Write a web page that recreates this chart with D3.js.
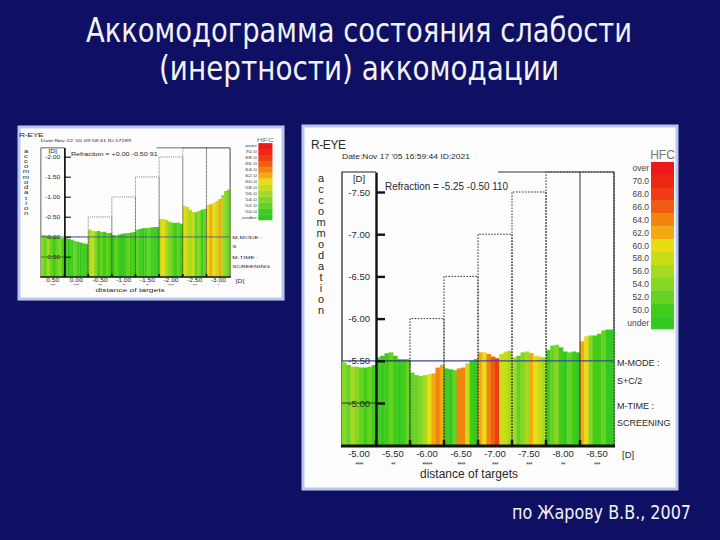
<!DOCTYPE html>
<html>
<head>
<meta charset="utf-8">
<script src="https://cdn.jsdelivr.net/npm/d3@7"></script>
<style>
  html, body { margin: 0; padding: 0; background: #0f1064; }
  svg { display: block; }
</style>
</head>
<body>
<div id="root"></div>
<script>
const width = 720;
const height = 540;

const titleLines = ['Аккомодограмма состояния слабости', '(инертности) аккомодации'];
const credit = 'по Жарову В.В., 2007';

// HFC legend, top to bottom
const hfcLabels = ['over', '70.0', '68.0', '66.0', '64.0', '62.0', '60.0', '58.0', '56.0', '54.0', '52.0', '50.0', 'under'];
const hfcColors = ['#ec1a1a', '#ee2614', '#f03c12', '#f05c12', '#f28410', '#f2aa10', '#eadc12',
                   '#c8dc18', '#a6da20', '#86d624', '#66d222', '#40cc18', '#34c822'];
const accLetters = 'accommodation'.split('');

// big chart (right)
const bigTargets = ['-5.00', '-5.50', '-6.00', '-6.50', '-7.00', '-7.50', '-8.00', '-8.50'];
const bigStimulus = [-5.0, -5.5, -6.0, -6.5, -7.0, -7.5, -8.0, -8.5];
const bigStars = ['****', '**', '*****', '****', '***', '***', '**', '***'];
const bigTicks = [-7.5, -7.0, -6.5, -6.0, -5.5, -5.0];
const bigValues = [
    [-5.48, -5.45, -5.43, -5.43, -5.42, -5.42, -5.43, -5.45],
    [-5.54, -5.56, -5.59, -5.60, -5.56, -5.52, -5.52, -5.52],
    [-5.36, -5.33, -5.32, -5.33, -5.34, -5.35, -5.42, -5.45],
    [-5.41, -5.40, -5.39, -5.41, -5.42, -5.47, -5.50, -5.52],
    [-5.60, -5.60, -5.58, -5.55, -5.53, -5.58, -5.61, -5.62],
    [-5.54, -5.56, -5.60, -5.61, -5.59, -5.56, -5.55, -5.54],
    [-5.63, -5.68, -5.69, -5.66, -5.61, -5.60, -5.61, -5.60],
    [-5.73, -5.79, -5.80, -5.80, -5.82, -5.86, -5.87, -5.87]
];
const bigHfc = [
    [54, 52, 56, 54, 52, 50, 52, 50],
    [50, 48, 50, 52, 50, 48, 50, 52],
    [52, 52, 54, 56, 60, 62, 64, 62],
    [50, 48, 52, 64, 64, 58, 50, 48],
    [62, 60, 64, 66, 68, 58, 58, 56],
    [56, 52, 54, 56, 62, 60, 58, 56],
    [50, 52, 54, 50, 48, 52, 50, 48],
    [62, 60, 54, 50, 50, 52, 48, 48]
];

// small chart (left)
const smallTargets = ['0.50', '0.00', '-0.50', '-1.00', '-1.50', '-2.00', '-2.50', '-3.00'];
const smallStimulus = [0.5, 0.0, -0.5, -1.0, -1.5, -2.0, -2.5, -3.0];
const smallStars = ['****', '****', '***', '**', '**', '****', '***', '*'];
const smallTicks = [-2.0, -1.5, -1.0, -0.5, 0.0, 0.5];
const smallValues = [
    [-0.05, -0.04, -0.03, -0.02, -0.01, 0.00, 0.02, 0.03],
    [0.03, 0.05, 0.07, 0.10, 0.12, 0.14, 0.16, 0.17],
    [-0.18, -0.16, -0.14, -0.15, -0.12, -0.13, -0.10, -0.10],
    [-0.05, -0.04, -0.06, -0.08, -0.09, -0.10, -0.11, -0.12],
    [-0.18, -0.20, -0.22, -0.22, -0.23, -0.24, -0.25, -0.25],
    [-0.45, -0.45, -0.42, -0.38, -0.36, -0.35, -0.36, -0.33],
    [-0.78, -0.75, -0.68, -0.62, -0.62, -0.65, -0.68, -0.70],
    [-0.80, -0.82, -0.85, -0.90, -0.95, -1.05, -1.15, -1.18]
];
const smallHfc = [
    [54, 52, 56, 52, 50, 52, 54, 50],
    [50, 48, 50, 52, 50, 48, 50, 48],
    [56, 58, 54, 50, 52, 50, 52, 50],
    [50, 52, 50, 48, 50, 52, 50, 50],
    [52, 50, 48, 50, 52, 50, 50, 48],
    [58, 60, 56, 54, 52, 50, 52, 50],
    [60, 58, 56, 58, 52, 54, 50, 52],
    [60, 62, 60, 58, 62, 56, 54, 52]
];

const pxPerD = 84.4;
const chartFont = '"Liberation Sans", Arial, sans-serif';
const titleFont = '"DejaVu Sans Condensed", "DejaVu Sans", sans-serif';
const ink = '#2a2a2a';

const hfcColor = d3.scaleThreshold().
    domain([49, 51, 53, 55, 57, 59, 61, 63, 65, 67, 69, 71]).
    range(hfcColors.slice().reverse());

const svg = d3.select('#root').append('svg').
    attr('width', width).
    attr('height', height);

svg.append('rect').attr('width', width).attr('height', height).attr('fill', '#0f1064');

// title
svg.selectAll('text.title').data(titleLines).join('text').
    attr('class', 'title').
    attr('x', 359).
    attr('y', (d, i) => 42 + i * 38).
    attr('text-anchor', 'middle').
    attr('font-family', titleFont).
    attr('font-size', 33).
    attr('fill', '#f2f2f2').
    attr('textLength', (d, i) => i ? 400 : 546).
    attr('lengthAdjust', 'spacingAndGlyphs').
    text(d => d);

svg.append('text').
    attr('x', 512).attr('y', 519).
    attr('font-family', titleFont).
    attr('font-size', 19).
    attr('fill', '#f2f2f2').
    attr('textLength', 179).
    attr('lengthAdjust', 'spacingAndGlyphs').
    text(credit);

const drawChart = (c) => {
    svg.append('rect').
        attr('x', c.x).attr('y', c.y).
        attr('width', c.w * c.sx).attr('height', c.h * c.sy).
        attr('fill', '#fdfdfd').
        attr('stroke', '#b8c8ea').
        attr('stroke-width', 3);

    const g = svg.append('g').
        attr('transform', `translate(${c.x},${c.y}) scale(${c.sx},${c.sy})`).
        attr('font-family', chartFont);

    const x = d3.scaleBand().domain(c.targets).range([c.plotLeft, c.plotRight]);
    const bw = x.bandwidth();
    const xi = d3.scaleBand().domain(d3.range(c.values[0].length)).range([0, bw]);
    const vAt = (p) => c.anchorValue + (p - c.anchorPos) / pxPerD;
    const y = d3.scaleLinear().domain([vAt(c.base), vAt(c.top)]).range([c.base, c.top]);
    const axisX = c.plotLeft + bw;

    // header
    g.append('text').attr('x', c.plotLeft - 31).attr('y', c.top - 23).
        attr('font-size', 12).attr('fill', ink).attr('letter-spacing', -0.4).text(c.eye);
    g.append('text').attr('x', c.plotLeft).attr('y', c.top - 13).
        attr('font-size', 7).attr('fill', ink).
        attr('textLength', 128).attr('lengthAdjust', 'spacingAndGlyphs').text(c.date);
    g.append('text').attr('x', axisX + 9).attr('y', c.top + 18).
        attr('font-size', 11).attr('fill', ink).
        attr('textLength', 123).attr('lengthAdjust', 'spacingAndGlyphs').text(c.refraction);

    // vertical axis title
    g.selectAll('text.acc').data(accLetters).join('text').
        attr('class', 'acc').
        attr('x', c.plotLeft - 21).
        attr('y', (d, i) => c.top + 10 + i * 11).
        attr('text-anchor', 'middle').
        attr('font-size', 11).
        attr('fill', ink).
        text(d => d);

    // left box and frame
    g.append('path').
        attr('d', `M${c.plotLeft},${c.base}V${c.top}H${axisX}`).
        attr('fill', 'none').attr('stroke', '#222').attr('stroke-width', 1.2);
    g.append('path').
        attr('d', `M195,${c.top}H${c.plotRight}V${c.base}`).
        attr('fill', 'none').attr('stroke', '#333').attr('stroke-width', 1.2);
    g.append('text').attr('x', c.plotLeft + bw / 2).attr('y', c.top + 10).
        attr('text-anchor', 'middle').attr('font-size', 9.5).attr('fill', ink).text('[D]');

    // bars
    const bars = c.targets.flatMap((t, i) => c.values[i].map((v, j) => ({t, j, v, hfc: c.hfc[i][j]})));
    g.selectAll('rect.bar').data(bars).join('rect').
        attr('class', 'bar').
        attr('x', d => x(d.t) + xi(d.j)).
        attr('width', xi.bandwidth() + 0.4).
        attr('y', d => y(d.v)).
        attr('height', d => c.base - y(d.v)).
        attr('fill', d => hfcColor(d.hfc));

    // refraction line
    g.append('line').
        attr('x1', c.plotLeft).attr('x2', c.plotRight).
        attr('y1', y(c.refLine)).attr('y2', y(c.refLine)).
        attr('stroke', '#3a4898').attr('stroke-width', 1.3);

    // stimulus steps
    c.targets.forEach((t, i) => {
        const x0 = x(t);
        const x1 = x0 + bw;
        const ly = Math.max(y(c.stimulus[i]), c.top);
        if (i === 0) {
            g.append('line').attr('x1', x0).attr('x2', x1).attr('y1', ly).attr('y2', ly).
                attr('stroke', '#333').attr('stroke-width', 1);
            return;
        }
        g.append('path').
            attr('d', `M${x0},${c.base}V${ly}H${x1}V${c.base}`).
            attr('fill', 'none').
            attr('stroke', '#333').
            attr('stroke-width', 1).
            attr('stroke-dasharray', '1.6,1.4');
    });

    // y axis
    const yAxis = d3.axisLeft(y).
        tickValues(c.ticks).
        tickFormat(d => d.toFixed(2)).
        tickSizeInner(-9).
        tickSizeOuter(0).
        tickPadding(6);
    const ya = g.append('g').
        attr('transform', `translate(${axisX},0)`).
        call(yAxis).
        attr('font-family', chartFont).
        attr('font-size', 9.5).
        attr('color', '#111');
    ya.select('.domain').attr('stroke-width', 2.4);
    ya.selectAll('.tick line').attr('stroke-width', 2.4);
    ya.selectAll('.tick text').attr('fill', ink);

    // x axis
    const xAxis = d3.axisBottom(x).tickSize(0).tickPadding(4);
    const xa = g.append('g').
        attr('transform', `translate(0,${c.base})`).
        call(xAxis).
        attr('font-family', chartFont).
        attr('font-size', 9.5);
    xa.select('.domain').remove();
    xa.selectAll('.tick text').attr('fill', ink);

    g.append('line').
        attr('x1', c.plotLeft - 1).attr('x2', c.plotRight + 1).
        attr('y1', c.base).attr('y2', c.base).
        attr('stroke', '#111').attr('stroke-width', 3.2);
    g.selectAll('line.gmark').data(c.targets.slice(1)).join('line').
        attr('class', 'gmark').
        attr('x1', d => x(d)).attr('x2', d => x(d)).
        attr('y1', c.base - 6).attr('y2', c.base).
        attr('stroke', '#111').attr('stroke-width', 2.5);

    g.selectAll('text.stars').data(c.stars).join('text').
        attr('class', 'stars').
        attr('x', (d, i) => x(c.targets[i]) + bw / 2).
        attr('y', c.base + 21).
        attr('text-anchor', 'middle').
        attr('font-size', 6.5).
        attr('letter-spacing', -0.6).
        attr('fill', '#444').
        text(d => d);

    g.append('text').attr('x', c.plotRight + 8).attr('y', c.base + 12).
        attr('font-size', 9.5).attr('fill', ink).text('[D]');
    g.append('text').attr('x', axisX + 44).attr('y', c.base + 32).
        attr('font-size', 12.5).attr('fill', ink).
        attr('textLength', 98).attr('lengthAdjust', 'spacingAndGlyphs').
        text('distance of targets');

    // mode labels
    const sideOffsets = [-80, -62, -37, -20];
    g.selectAll('text.side').data(c.mode).join('text').
        attr('class', 'side').
        attr('x', c.sideX).
        attr('y', (d, i) => c.base + sideOffsets[i]).
        attr('font-size', 9).
        attr('fill', ink).
        text(d => d);

    // HFC legend
    const ly = d3.scaleBand().
        domain(hfcLabels).
        range([c.legendTop, c.legendTop + c.cellH * hfcLabels.length]);
    g.append('text').
        attr('x', c.legendX + c.legendW / 2).
        attr('y', c.legendTop - 3).
        attr('text-anchor', 'middle').
        attr('font-size', 12).
        attr('fill', '#777').
        text('HFC');
    g.selectAll('rect.leg').data(hfcLabels).join('rect').
        attr('class', 'leg').
        attr('x', c.legendX).
        attr('y', d => ly(d)).
        attr('width', c.legendW).
        attr('height', ly.bandwidth() + 0.3).
        attr('fill', (d, i) => hfcColors[i]);
    g.selectAll('text.leg').data(hfcLabels).join('text').
        attr('class', 'leg').
        attr('x', c.legendX - 2).
        attr('y', d => ly(d) + ly.bandwidth() / 2).
        attr('dy', '0.35em').
        attr('text-anchor', 'end').
        attr('font-size', 8.5).
        attr('fill', '#444').
        text(d => d);
};

drawChart({
    x: 303, y: 126, sx: 1, sy: 1, w: 374, h: 363,
    plotLeft: 39, plotRight: 311, top: 46, base: 320,
    anchorValue: -5.0, anchorPos: 277,
    legendX: 348, legendW: 23, legendTop: 36, cellH: 12.85, sideX: 314,
    targets: bigTargets, stimulus: bigStimulus, stars: bigStars, ticks: bigTicks,
    values: bigValues, hfc: bigHfc, refLine: -5.5,
    eye: 'R-EYE',
    date: "Date:Nov 17 '05 16:59:44    ID:2021",
    refraction: 'Refraction = -5.25 -0.50 110',
    mode: ['M-MODE :', 'S+C/2', 'M-TIME :', 'SCREENING']
});

drawChart({
    x: 19, y: 127, sx: 0.706, sy: 0.474, w: 374, h: 363,
    plotLeft: 31, plotRight: 299, top: 44, base: 316.5,
    anchorValue: 0.0, anchorPos: 232,
    legendX: 339, legendW: 20, legendTop: 34, cellH: 12.5, sideX: 302,
    targets: smallTargets, stimulus: smallStimulus, stars: smallStars, ticks: smallTicks,
    values: smallValues, hfc: smallHfc, refLine: 0.0,
    eye: 'R-EYE',
    date: "Date:Nov 22 '05 09:58:41    ID:17289",
    refraction: 'Refraction = +0.00 -0.50  91',
    mode: ['M-MODE :', 'S', 'M-TIME :', 'SCREENING']
});
</script>
</body>
</html>
